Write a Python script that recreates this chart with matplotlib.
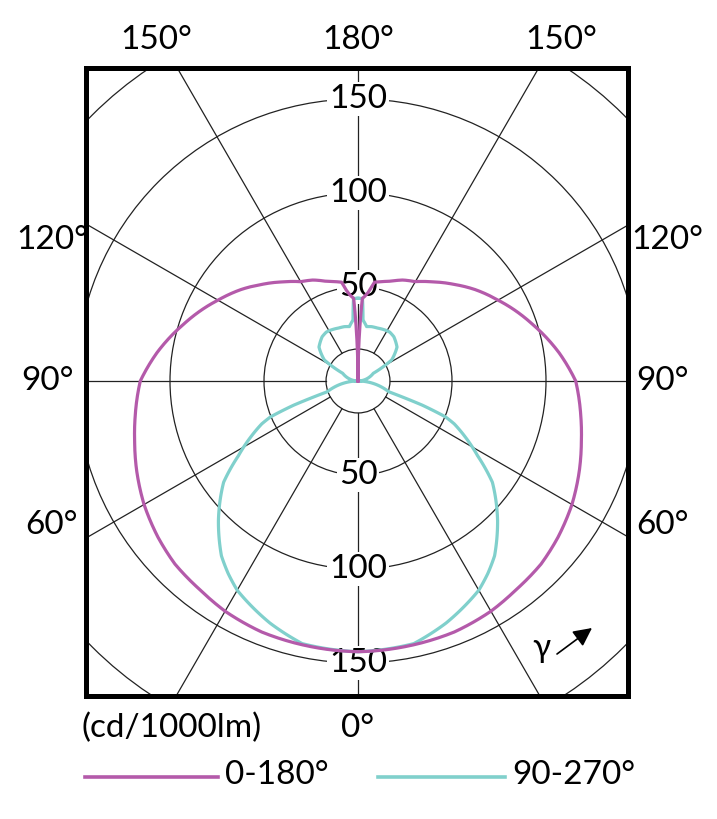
import numpy as np
import matplotlib
matplotlib.use('Agg')
import matplotlib.pyplot as plt
from matplotlib.patches import Rectangle, Circle
from matplotlib.lines import Line2D

plt.rcParams['font.family'] = ['Lato', 'DejaVu Sans']

# gamma angle (deg, 0 = straight down) and intensity (cd/1000lm), right half; curves are symmetric
gamma_c0 = [0, 10, 21, 30, 37, 45, 52, 60, 68, 75, 81, 90, 98, 108, 120, 128, 135,
            143, 150, 156, 162, 166, 170.5, 173, 175, 177, 180]
r_c0 = [144, 143.5, 143, 141.4, 139.3, 137.7, 135, 131.4, 127, 123, 120, 115.8, 108, 97.6,
        86, 79, 72.6, 66, 61, 58.8, 55.8, 54.5, 53.3, 48, 45.5, 44, 0]

gamma_c90 = [0, 12, 20, 30, 34, 38, 45, 53, 58, 62.5, 66, 67.7, 69.4, 70.7, 90, 116.7, 122,
             131, 141, 147, 152, 160, 166, 171, 175.3, 176.9, 180]
r_c90 = [144, 142.8, 137, 128.5, 123.5, 118, 105, 89.5, 75, 64.2, 56, 50.3, 36.5, 17.4, 0, 9.1,
         21.1, 27.5, 30.3, 31, 30.7, 30, 29.8, 29.3, 32.5, 44, 44]

ring_values = [50, 100, 150]
ring_all = [17, 50, 100, 150, 200]
spoke_angles = np.arange(0, 360, 30)

angle_labels = ['150°', '180°', '150°', '120°', '120°', '90°', '90°', '60°', '60°']
angle_label_px = [(156, 40), (358, 40), (561, 40), (52, 240), (667, 240),
                  (48, 381), (662, 381), (51, 525), (663, 525)]

series_names = ['0-180°', '90-270°']
colors = ['#b45aaa', '#80d0cc']

W, H = 717, 819
CX, CY = 358, 381
S = 1.88  # px per unit


def fx(px):
    return px / W


def fy(py):
    return 1 - py / H


def mirror(gam, r):
    g = np.radians(np.concatenate([-np.asarray(gam)[::-1], np.asarray(gam)]))
    rr = np.concatenate([np.asarray(r)[::-1], np.asarray(r)])
    return g, rr


fig = plt.figure(figsize=(W / 100, H / 100), dpi=100)
ax = fig.add_axes([0, 0, 1, 1])
ax.set_xlim(-CX / S, (W - CX) / S)
ax.set_ylim(-(H - CY) / S, CY / S)
ax.axis('off')

bx0, bx1 = (86 - CX) / S, (628 - CX) / S
by0, by1 = (CY - 695.7) / S, (CY - 67.5) / S
clip = Rectangle((bx0, by0), bx1 - bx0, by1 - by0, transform=ax.transData)

for rv in ring_all:
    c = Circle((0, 0), rv, fill=False, lw=0.9, ec='#222222', zorder=1)
    ax.add_patch(c)
    c.set_clip_path(clip)

for a in spoke_angles:
    t = np.radians(a)
    ln, = ax.plot([17 * np.sin(t), 260 * np.sin(t)], [-17 * np.cos(t), -260 * np.cos(t)],
                  color='#222222', lw=0.9, zorder=1)
    ln.set_clip_path(clip)

for rv in ring_values:
    for sgn in (1, -1):
        ax.text(0, sgn * rv, str(rv), ha='center', va='center', fontsize=24, zorder=2,
                bbox=dict(boxstyle='square,pad=0.05', fc='white', ec='none'))

# curves on a transparent polar axes sharing the same centre and scale
R = 200
half = R * S
pax = fig.add_axes([(CX - half) / W, (H - CY - half) / H, 2 * half / W, 2 * half / H],
                   projection='polar', zorder=3)
pax.set_theta_zero_location('S')
pax.set_rlim(0, R)
pax.patch.set_alpha(0)
pax.axis('off')

g90, rr90 = mirror(gamma_c90, r_c90)
g0, rr0 = mirror(gamma_c0, r_c0)
for g, rr, col in ((g90, rr90, colors[1]), (g0, rr0, colors[0])):
    ln, = pax.plot(g, rr, color=col, lw=2.3, solid_joinstyle='round')
    # let the polar transform draw each segment as a curve instead of a chord
    ln.get_path()._interpolation_steps = 24

box_ax = fig.add_axes([0, 0, 1, 1], zorder=4)
box_ax.set_xlim(ax.get_xlim())
box_ax.set_ylim(ax.get_ylim())
box_ax.axis('off')
box_ax.add_patch(Rectangle((bx0, by0), bx1 - bx0, by1 - by0, fill=False, lw=3.6, ec='black'))

for lab, (px, py) in zip(angle_labels, angle_label_px):
    fig.text(fx(px), fy(py), lab, ha='center', va='center', fontsize=24)

fig.text(fx(358), fy(728), '0°', ha='center', va='center', fontsize=24)
fig.text(fx(172), fy(728), '(cd/1000lm)', ha='center', va='center', fontsize=24)

# gamma arrow
fig.text(fx(541), fy(648), 'γ', ha='center', va='center', fontsize=24)
box_ax.annotate('', xy=(fx(592), fy(628)), xytext=(fx(557), fy(654)),
                xycoords='figure fraction', textcoords='figure fraction',
                arrowprops=dict(arrowstyle='-|>', lw=1.2, color='black', mutation_scale=28,
                                shrinkA=0, shrinkB=0))

# legend
leg = [(85, 218, 225), (378, 505, 512)]
for (l0, l1, tx), name, col in zip(leg, series_names, colors):
    fig.add_artist(Line2D([fx(l0), fx(l1)], [fy(777), fy(777)], color=col, lw=2.6))
    fig.text(fx(tx), fy(775), name, ha='left', va='center', fontsize=24)

fig.savefig('out.png', dpi=100)
